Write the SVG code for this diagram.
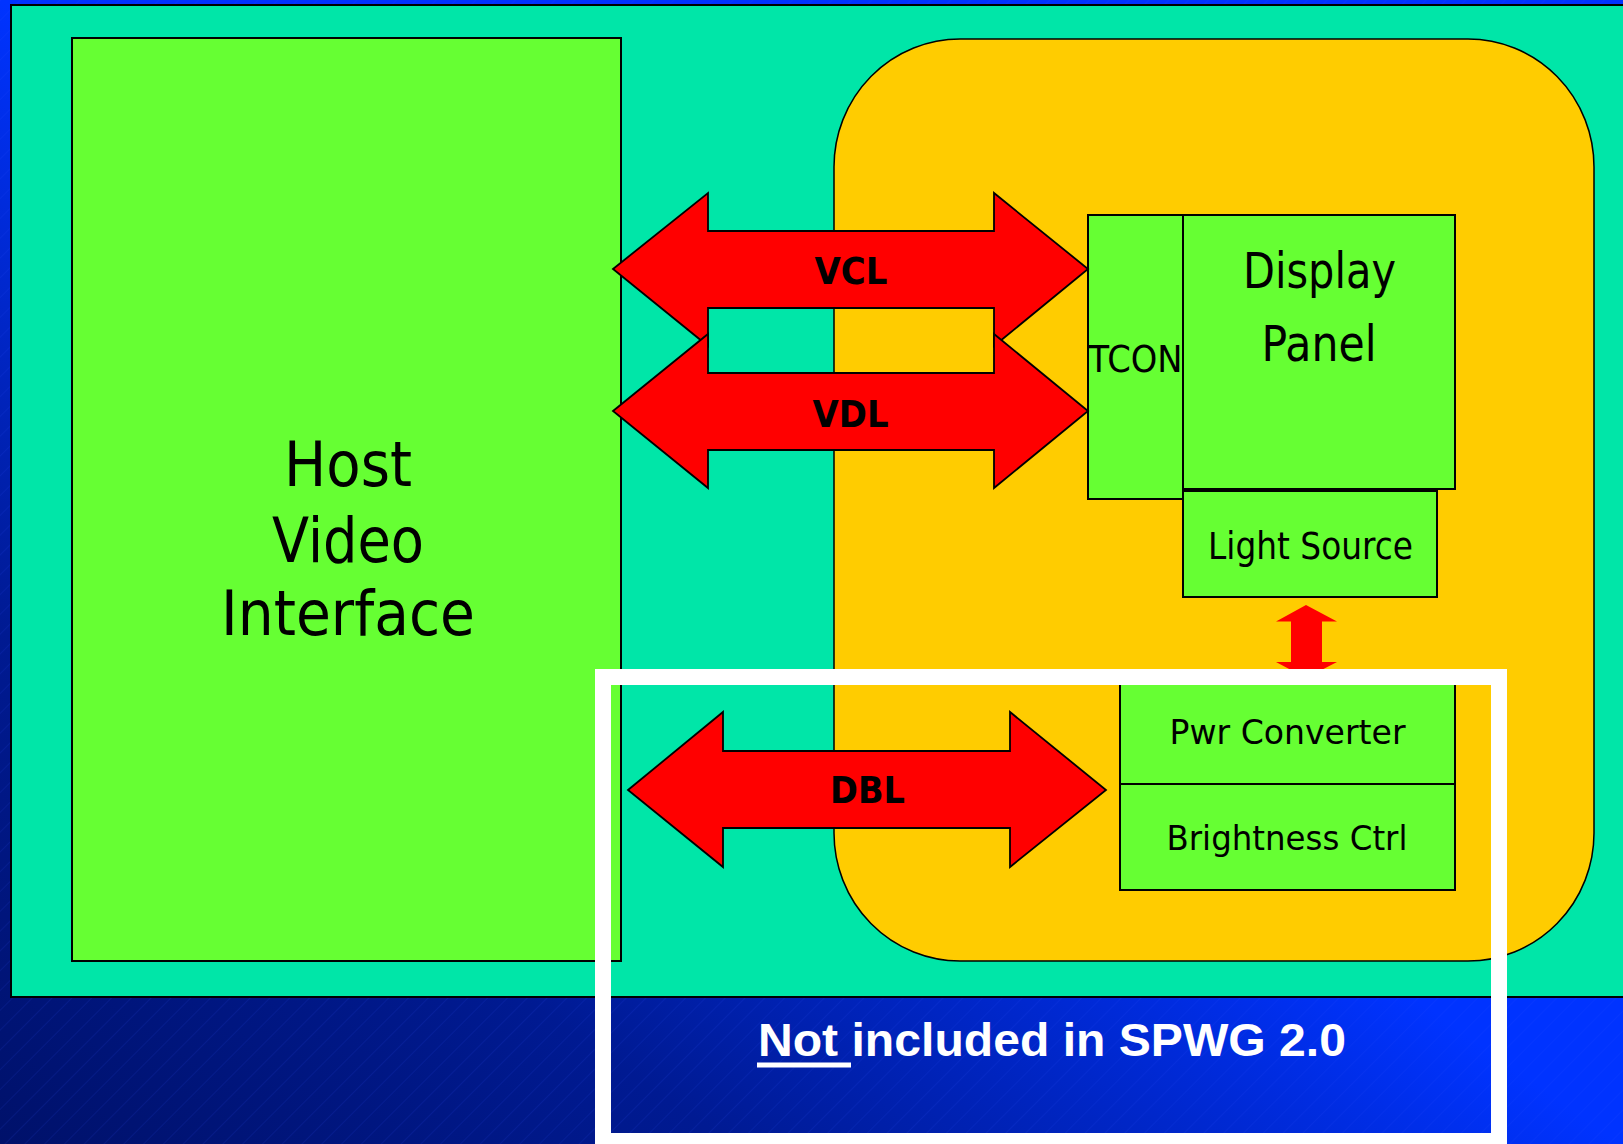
<svg xmlns="http://www.w3.org/2000/svg" width="1623" height="1144" viewBox="0 0 1623 1144">
  <defs>
    <linearGradient id="bg" gradientUnits="userSpaceOnUse" x1="0" y1="1144" x2="539" y2="380">
      <stop offset="0" stop-color="#00116a"/>
      <stop offset="0.45" stop-color="#001a92"/>
      <stop offset="1" stop-color="#0033ff"/>
    </linearGradient>
    <pattern id="stripes" patternUnits="userSpaceOnUse" width="14" height="14" patternTransform="rotate(45)">
      <line x1="0" y1="0" x2="0" y2="14" stroke="#3355ff" stroke-width="2" stroke-opacity="0.12"/>
    </pattern>
    <style>
      .blk { stroke: #000; stroke-width: 2; }
      .grn { fill: #66ff33; stroke: #000; stroke-width: 2; }
      .arrow { fill: #ff0000; stroke: #000; stroke-width: 1.8; stroke-linejoin: miter; }
      .t { font-family: "DejaVu Sans", Verdana, sans-serif; fill: #000; text-anchor: middle; }
      .tb { font-family: "DejaVu Sans", Verdana, sans-serif; font-weight: bold; fill: #000; text-anchor: middle; }
    </style>
  </defs>

  <!-- background -->
  <rect x="0" y="0" width="1623" height="1144" fill="url(#bg)"/>
  <rect x="0" y="0" width="1623" height="1144" fill="url(#stripes)"/>

  <!-- teal panel -->
  <rect x="11" y="5" width="1640" height="992" fill="#00e6a8" class="blk"/>

  <!-- host -->
  <g id="host">
    <rect x="72" y="38" width="549" height="923" class="grn"/>
    <text class="t" font-size="62" x="348" y="486" textLength="128" lengthAdjust="spacingAndGlyphs">Host</text>
    <text class="t" font-size="62" x="348" y="562" textLength="152" lengthAdjust="spacingAndGlyphs">Video</text>
    <text class="t" font-size="62" x="348" y="635" textLength="254" lengthAdjust="spacingAndGlyphs">Interface</text>
  </g>

  <!-- display module -->
  <g id="module">
    <rect x="834" y="39" width="760" height="922" rx="126" ry="128" fill="#ffcc00" stroke="#000" stroke-width="1.5"/>
  </g>

  <g id="tcon">
    <rect x="1088" y="215" width="95" height="284" class="grn"/>
    <text class="t" font-size="37" x="1135.5" y="372" textLength="94" lengthAdjust="spacingAndGlyphs">TCON</text>
  </g>

  <g id="display-panel">
    <rect x="1183" y="215" width="272" height="274" class="grn"/>
    <text class="t" font-size="49" x="1319.5" y="288" textLength="153" lengthAdjust="spacingAndGlyphs">Display</text>
    <text class="t" font-size="49" x="1319" y="361" textLength="115" lengthAdjust="spacingAndGlyphs">Panel</text>
  </g>

  <g id="light-source">
    <rect x="1183" y="491" width="254" height="106" class="grn"/>
    <text class="t" font-size="37" x="1310.5" y="559" textLength="205" lengthAdjust="spacingAndGlyphs">Light Source</text>
  </g>

  <g id="pwr-converter">
    <rect x="1120" y="672" width="335" height="112" class="grn"/>
    <text class="t" font-size="33" x="1287.5" y="744" textLength="236" lengthAdjust="spacingAndGlyphs">Pwr Converter</text>
  </g>

  <g id="brightness-ctrl">
    <rect x="1120" y="784" width="335" height="106" class="grn"/>
    <text class="t" font-size="33" x="1287" y="850" textLength="241" lengthAdjust="spacingAndGlyphs">Brightness Ctrl</text>
  </g>

  <!-- connectors -->
  <g id="connectors">
    <g id="vcl">
      <polygon class="arrow" points="613,269 708,193 708,231 994,231 994,193 1088,269 994,346 994,308 708,308 708,346"/>
      <text class="tb" font-size="38" x="851" y="284" textLength="73" lengthAdjust="spacingAndGlyphs">VCL</text>
    </g>
    <g id="vdl">
      <polygon class="arrow" points="613,411 708,334 708,373 994,373 994,334 1088,411 994,488 994,450 708,450 708,488"/>
      <text class="tb" font-size="38" x="850.5" y="427" textLength="76" lengthAdjust="spacingAndGlyphs">VDL</text>
    </g>
    <g id="dbl">
      <polygon class="arrow" points="628,790 723,712 723,751 1010,751 1010,712 1106,790 1010,867 1010,828 723,828 723,867"/>
      <text class="tb" font-size="38" x="867.5" y="803" textLength="75" lengthAdjust="spacingAndGlyphs">DBL</text>
    </g>
    <polygon id="light-power" fill="#ff0000" points="1306,605 1337,621.5 1322,621.5 1322,662 1337,662 1306,678 1276,662 1291,662 1291,621.5 1276,621.5"/>
  </g>

  <!-- not-included frame -->
  <g id="not-included">
    <rect x="603" y="677" width="896" height="464" fill="none" stroke="#ffffff" stroke-width="16"/>
    <text x="758" y="1056" font-family="'Liberation Sans', Arial, sans-serif" font-weight="bold" font-size="47" fill="#ffffff" textLength="588" lengthAdjust="spacingAndGlyphs">Not included in SPWG 2.0</text>
    <rect x="757" y="1062.5" width="94" height="5" fill="#ffffff"/>
  </g>
</svg>
